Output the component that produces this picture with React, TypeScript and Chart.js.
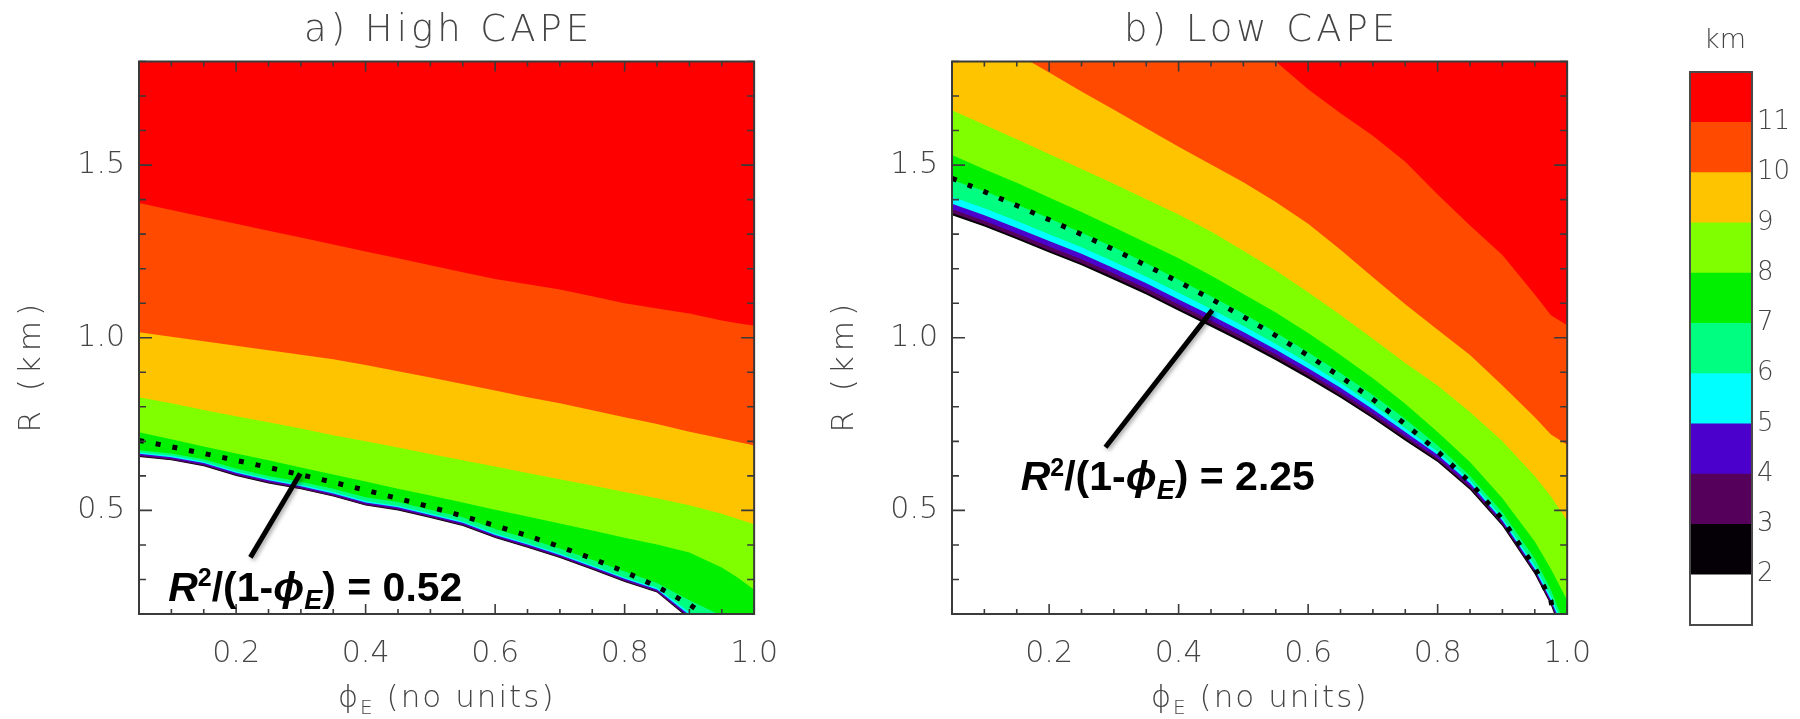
import { useEffect, useRef } from "react";
import { Chart, registerables } from "chart.js";

Chart.register(...registerables);

// Entrainment fraction phi_E at which each contour crossing is sampled
const phiE = [0.05, 0.1, 0.15, 0.2, 0.25, 0.3, 0.35, 0.4, 0.45, 0.5, 0.55, 0.6, 0.65, 0.7, 0.75, 0.8, 0.85, 0.9, 0.95, 0.975, 1.0];

// Colour bar: band i spans cbEdges[i]..cbEdges[i + 1] (km)
const cbEdges = [1, 2, 3, 4, 5, 6, 7, 8, 9, 10, 11, 12];
const cbLabels = [2, 3, 4, 5, 6, 7, 8, 9, 10, 11];
const bandColors = [
  "#ffffff", "#050005", "#55005a", "#4b00cc", "#00ffff", "#00ff80",
  "#00f000", "#80ff00", "#ffc400", "#ff4a00", "#ff0000",
];

// a) High CAPE: radius R (km) where the field reaches each level, per phiE
const highL2 = [0.655, 0.645, 0.628, 0.6, 0.578, 0.561, 0.54, 0.514, 0.5, 0.478, 0.455, 0.42, 0.392, 0.362, 0.328, 0.293, 0.262, 0.185, 0.08, 0.02, 0.0];
const highL3 = [0.657, 0.647, 0.63, 0.602, 0.58, 0.563, 0.542, 0.516, 0.502, 0.48, 0.457, 0.422, 0.394, 0.364, 0.33, 0.295, 0.264, 0.188, 0.085, 0.025, 0.0];
const highL4 = [0.66, 0.65, 0.633, 0.605, 0.583, 0.566, 0.545, 0.519, 0.505, 0.483, 0.46, 0.425, 0.397, 0.367, 0.333, 0.298, 0.267, 0.192, 0.095, 0.035, 0.0];
const highL5 = [0.664, 0.654, 0.637, 0.609, 0.587, 0.57, 0.549, 0.523, 0.509, 0.487, 0.464, 0.429, 0.401, 0.371, 0.337, 0.302, 0.271, 0.197, 0.105, 0.045, 0.0];
const highL6 = [0.668, 0.658, 0.641, 0.613, 0.591, 0.574, 0.553, 0.527, 0.513, 0.491, 0.468, 0.433, 0.405, 0.375, 0.341, 0.306, 0.276, 0.205, 0.125, 0.07, 0.0];
const highL7 = [0.674, 0.665, 0.648, 0.621, 0.6, 0.583, 0.563, 0.538, 0.524, 0.502, 0.48, 0.446, 0.419, 0.39, 0.357, 0.323, 0.29, 0.24, 0.195, 0.16, 0.1];
const highL8 = [0.726, 0.706, 0.685, 0.665, 0.645, 0.624, 0.604, 0.584, 0.563, 0.543, 0.523, 0.502, 0.482, 0.462, 0.442, 0.421, 0.401, 0.378, 0.335, 0.305, 0.27];
const highL9 = [0.828, 0.81, 0.791, 0.773, 0.755, 0.737, 0.718, 0.7, 0.682, 0.663, 0.645, 0.627, 0.608, 0.59, 0.572, 0.553, 0.535, 0.515, 0.49, 0.475, 0.46];
const highL10 = [1.016, 1.003, 0.99, 0.977, 0.964, 0.951, 0.938, 0.921, 0.903, 0.885, 0.866, 0.847, 0.828, 0.81, 0.79, 0.77, 0.75, 0.728, 0.708, 0.698, 0.688];
const highL11 = [1.39, 1.37, 1.35, 1.33, 1.31, 1.29, 1.27, 1.25, 1.23, 1.21, 1.19, 1.17, 1.155, 1.14, 1.12, 1.1, 1.085, 1.07, 1.05, 1.042, 1.035];

// b) Low CAPE
const lowL2 = [1.355, 1.322, 1.285, 1.247, 1.21, 1.168, 1.125, 1.078, 1.032, 0.985, 0.935, 0.882, 0.826, 0.766, 0.702, 0.64, 0.56, 0.455, 0.315, 0.225, 0.1];
const lowL3 = [1.361, 1.328, 1.291, 1.253, 1.216, 1.175, 1.132, 1.085, 1.039, 0.992, 0.942, 0.889, 0.833, 0.772, 0.708, 0.645, 0.565, 0.46, 0.32, 0.23, 0.11];
const lowL4 = [1.372, 1.339, 1.302, 1.264, 1.227, 1.186, 1.143, 1.096, 1.05, 1.002, 0.952, 0.899, 0.842, 0.781, 0.716, 0.652, 0.571, 0.465, 0.325, 0.235, 0.12];
const lowL5 = [1.388, 1.355, 1.318, 1.28, 1.243, 1.201, 1.158, 1.111, 1.065, 1.017, 0.966, 0.912, 0.855, 0.793, 0.727, 0.661, 0.579, 0.471, 0.33, 0.24, 0.13];
const lowL6 = [1.408, 1.375, 1.338, 1.3, 1.262, 1.22, 1.177, 1.13, 1.083, 1.034, 0.982, 0.927, 0.869, 0.806, 0.738, 0.67, 0.587, 0.478, 0.34, 0.25, 0.14];
const lowL7 = [1.457, 1.425, 1.386, 1.346, 1.304, 1.262, 1.216, 1.168, 1.12, 1.07, 1.015, 0.958, 0.898, 0.834, 0.765, 0.688, 0.6, 0.495, 0.36, 0.27, 0.15];
const lowL8 = [1.529, 1.488, 1.449, 1.406, 1.364, 1.32, 1.275, 1.23, 1.18, 1.127, 1.073, 1.014, 0.95, 0.883, 0.809, 0.727, 0.64, 0.535, 0.41, 0.33, 0.24];
const lowL9 = [1.659, 1.617, 1.575, 1.532, 1.489, 1.446, 1.401, 1.357, 1.308, 1.252, 1.195, 1.132, 1.066, 0.997, 0.927, 0.862, 0.785, 0.7, 0.6, 0.54, 0.47];
const lowL10 = [1.93, 1.875, 1.822, 1.768, 1.713, 1.66, 1.607, 1.553, 1.502, 1.45, 1.393, 1.33, 1.255, 1.175, 1.097, 1.023, 0.95, 0.862, 0.77, 0.72, 0.69];
const lowL11 = [2.5, 2.43, 2.36, 2.29, 2.22, 2.15, 2.08, 2.01, 1.94, 1.87, 1.8, 1.72, 1.65, 1.585, 1.51, 1.415, 1.325, 1.24, 1.125, 1.065, 1.036];

// R^2 / (1 - phiE) of the dotted curves
const highConst = 0.52;
const lowConst = 2.25;

// Axis ticks
const xMajor = [0.2, 0.4, 0.6, 0.8, 1.0];
const xMinor = [0.05, 0.1, 0.15, 0.2, 0.25, 0.3, 0.35, 0.4, 0.45, 0.5, 0.55, 0.6, 0.65, 0.7, 0.75, 0.8, 0.85, 0.9, 0.95, 1.0];
const yMajor = [0.5, 1.0, 1.5];
const yMinor = [0.2, 0.3, 0.4, 0.5, 0.6, 0.7, 0.8, 0.9, 1.0, 1.1, 1.2, 1.3, 1.4, 1.5, 1.6, 1.7, 1.8];

const THIN = '"DejaVu Sans", "Open Sans", sans-serif';
const BOLD = '"Liberation Sans", Arial, sans-serif';
const TEXT_GREY = "#454545";
const PHI = "\u03d5";

function drawFormula(ctx: CanvasRenderingContext2D, x0: number, base: number, value: string) {
  const s = 41;
  const segs = [
    { t: "R", f: `italic bold ${s}px ${BOLD}`, dy: 0 },
    { t: "2", f: `bold ${Math.round(s * 0.62)}px ${BOLD}`, dy: -s * 0.36 },
    { t: "/(1-", f: `bold ${s}px ${BOLD}`, dy: 0 },
    { t: PHI, f: `italic bold ${s}px ${BOLD}`, dy: 0 },
    { t: "E", f: `italic bold ${Math.round(s * 0.66)}px ${BOLD}`, dy: s * 0.2 },
    { t: ") = " + value, f: `bold ${s}px ${BOLD}`, dy: 0 },
  ];
  ctx.fillStyle = "#000";
  ctx.textBaseline = "alphabetic";
  ctx.textAlign = "left";
  let cx = x0;
  for (const g of segs) {
    ctx.font = g.f;
    ctx.fillText(g.t, cx, base + g.dy);
    cx += ctx.measureText(g.t).width;
  }
}

const panelDecor = {
  id: "panelDecor",
  afterDraw(chart: any, _args: any, opts: any) {
    const { ctx, chartArea: a, scales } = chart;
    const x = scales.x;
    const y = scales.y;
    ctx.save();

    // frame with inward ticks on all four sides
    ctx.strokeStyle = "#3a3a3a";
    ctx.lineWidth = 2;
    ctx.strokeRect(a.left, a.top, a.right - a.left, a.bottom - a.top);
    ctx.lineWidth = 1.6;
    ctx.beginPath();
    for (const v of xMinor) {
      const px = x.getPixelForValue(v);
      const len = xMajor.includes(v) ? 10 : 5;
      ctx.moveTo(px, a.bottom);
      ctx.lineTo(px, a.bottom - len);
      ctx.moveTo(px, a.top);
      ctx.lineTo(px, a.top + len);
    }
    for (const v of yMinor) {
      const py = y.getPixelForValue(v);
      const len = yMajor.includes(v) ? 13 : 7;
      ctx.moveTo(a.left, py);
      ctx.lineTo(a.left + len, py);
      ctx.moveTo(a.right, py);
      ctx.lineTo(a.right - len, py);
    }
    ctx.stroke();

    // leader line from the formula to the dotted curve
    ctx.save();
    ctx.shadowColor = "rgba(0,0,0,0.35)";
    ctx.shadowBlur = 4;
    ctx.shadowOffsetX = 2;
    ctx.shadowOffsetY = 2;
    ctx.strokeStyle = "#000";
    ctx.lineWidth = 5;
    ctx.beginPath();
    ctx.moveTo(x.getPixelForValue(opts.leader[0][0]), y.getPixelForValue(opts.leader[0][1]));
    ctx.lineTo(x.getPixelForValue(opts.leader[1][0]), y.getPixelForValue(opts.leader[1][1]));
    ctx.stroke();
    ctx.restore();

    drawFormula(ctx, x.getPixelForValue(opts.labelAt[0]), y.getPixelForValue(opts.labelAt[1]), opts.value);

    // panel title and axis titles
    const cx = (a.left + a.right) / 2;
    ctx.fillStyle = TEXT_GREY;
    ctx.textAlign = "center";
    ctx.textBaseline = "alphabetic";
    ctx.font = `200 37px ${THIN}`;
    (ctx as any).letterSpacing = "4px";
    ctx.fillText(opts.title, cx + 2, 41);

    ctx.font = `200 31px ${THIN}`;
    (ctx as any).letterSpacing = "5px";
    ctx.save();
    ctx.translate(a.left - 107, (a.top + a.bottom) / 2 + 28);
    ctx.rotate(-Math.PI / 2);
    ctx.textBaseline = "middle";
    ctx.fillText("R (km)", 0, 0);
    ctx.restore();

    (ctx as any).letterSpacing = "2px";
    const main = `200 31px ${THIN}`;
    const sub = `200 20px ${THIN}`;
    ctx.font = main;
    const w1 = ctx.measureText(PHI).width;
    const rest = " (no units)";
    const w3 = ctx.measureText(rest).width;
    ctx.font = sub;
    const w2 = ctx.measureText("E").width;
    let px = cx - (w1 + w2 + w3) / 2;
    const base = 707;
    ctx.textAlign = "left";
    ctx.font = main;
    ctx.fillText(PHI, px, base);
    px += w1;
    ctx.font = sub;
    ctx.fillText("E", px, base + 7);
    px += w2;
    ctx.font = main;
    ctx.fillText(rest, px, base);
    (ctx as any).letterSpacing = "0px";
    ctx.restore();
  },
};

function makePanel(canvas: HTMLCanvasElement, bounds: number[][], k: number, opts: any) {
  const datasets: any[] = bounds.map((rs, i) => ({
    data: phiE.map((p, j) => ({ x: p, y: rs[j] })),
    borderWidth: 0,
    pointRadius: 0,
    fill: "end",
    backgroundColor: bandColors[i + 1],
    order: 100 - i,
    clip: 0,
  }));
  // dotted curve R = sqrt(k (1 - phiE)) for the constant printed in the panel
  datasets.push({
    data: phiE.map((p) => ({ x: p, y: Math.sqrt(k * (1 - p)) })),
    borderColor: "#000",
    borderWidth: 5,
    borderDash: [5, 12],
    pointRadius: 0,
    fill: false,
    order: 0,
    clip: 0,
  });
  const tickFont = { family: THIN, size: 30, weight: "200" as any };
  return new Chart(canvas, {
    type: "line",
    data: { datasets },
    options: {
      animation: false,
      responsive: false,
      maintainAspectRatio: false,
      layout: { padding: { left: 39, right: 27, top: 61.5, bottom: 0 } },
      plugins: {
        legend: { display: false },
        tooltip: { enabled: false },
        panelDecor: opts,
      } as any,
      scales: {
        x: {
          type: "linear",
          min: 0.05,
          max: 1.0,
          afterBuildTicks: (s: any) => {
            s.ticks = xMajor.map((v) => ({ value: v }));
          },
          afterFit: (s: any) => {
            s.height = 105;
          },
          grid: { display: false, drawTicks: false },
          border: { display: false },
          ticks: {
            font: tickFont,
            color: TEXT_GREY,
            padding: 22,
            maxRotation: 0,
            autoSkip: false,
            callback: (v: any) => Number(v).toFixed(1),
          },
        },
        y: {
          type: "linear",
          min: 0.2,
          max: 1.8,
          afterBuildTicks: (s: any) => {
            s.ticks = yMajor.map((v) => ({ value: v }));
          },
          afterFit: (s: any) => {
            s.width = 100;
          },
          grid: { display: false, drawTicks: false },
          border: { display: false },
          ticks: {
            font: tickFont,
            color: TEXT_GREY,
            padding: 14,
            autoSkip: false,
            callback: (v: any) => Number(v).toFixed(1),
          },
        },
      },
    },
    plugins: [panelDecor],
  } as any);
}

const colorbarDecor = {
  id: "colorbarDecor",
  afterDraw(chart: any) {
    const { ctx, chartArea: a } = chart;
    ctx.save();
    ctx.strokeStyle = "#4a4a4a";
    ctx.lineWidth = 2;
    ctx.strokeRect(a.left, a.top, a.right - a.left, a.bottom - a.top);
    ctx.fillStyle = TEXT_GREY;
    ctx.font = `200 27px ${THIN}`;
    ctx.textAlign = "center";
    ctx.textBaseline = "alphabetic";
    ctx.fillText("km", (a.left + a.right) / 2 + 4, 48);
    ctx.restore();
  },
};

function makeColorbar(canvas: HTMLCanvasElement) {
  const datasets = bandColors.map((c, i) => ({
    data: [[cbEdges[i], cbEdges[i + 1]]],
    backgroundColor: c,
    borderWidth: 0,
    barPercentage: 1,
    categoryPercentage: 1,
    grouped: false,
  }));
  return new Chart(canvas, {
    type: "bar",
    data: { labels: ["km"], datasets },
    options: {
      animation: false,
      responsive: false,
      maintainAspectRatio: false,
      layout: { padding: { left: 90, right: 0, top: 72, bottom: 94 } },
      plugins: { legend: { display: false }, tooltip: { enabled: false } },
      scales: {
        x: { display: false },
        y: {
          position: "right",
          min: cbEdges[0],
          max: cbEdges[cbEdges.length - 1],
          afterBuildTicks: (s: any) => {
            s.ticks = cbLabels.map((v) => ({ value: v }));
          },
          afterFit: (s: any) => {
            s.width = 48;
          },
          grid: { display: false, drawTicks: false },
          border: { display: false },
          ticks: {
            font: { family: THIN, size: 26, weight: "200" as any },
            color: TEXT_GREY,
            padding: 5,
            autoSkip: false,
          },
        },
      },
    },
    plugins: [colorbarDecor],
  } as any);
}

export default function App() {
  const aRef = useRef<HTMLCanvasElement>(null);
  const bRef = useRef<HTMLCanvasElement>(null);
  const cRef = useRef<HTMLCanvasElement>(null);

  useEffect(() => {
    const charts = [
      makePanel(
        aRef.current!,
        [highL2, highL3, highL4, highL5, highL6, highL7, highL8, highL9, highL10, highL11],
        highConst,
        { title: "a) High CAPE", value: "0.52", labelAt: [0.095, 0.239], leader: [[0.222, 0.364], [0.299, 0.607]] }
      ),
      makePanel(
        bRef.current!,
        [lowL2, lowL3, lowL4, lowL5, lowL6, lowL7, lowL8, lowL9, lowL10, lowL11],
        lowConst,
        { title: "b) Low CAPE", value: "2.25", labelAt: [0.156, 0.558], leader: [[0.287, 0.683], [0.452, 1.08]] }
      ),
      makeColorbar(cRef.current!),
    ];
    return () => charts.forEach((c) => c.destroy());
  }, []);

  return (
    <div style={{ position: "fixed", left: 0, top: 0, width: 1800, height: 719, background: "#fff", overflow: "hidden" }}>
      <canvas ref={aRef} width={800} height={719} style={{ position: "absolute", left: 0, top: 0 }} />
      <canvas ref={bRef} width={800} height={719} style={{ position: "absolute", left: 813, top: 0 }} />
      <canvas ref={cRef} width={200} height={719} style={{ position: "absolute", left: 1600, top: 0 }} />
    </div>
  );
}
